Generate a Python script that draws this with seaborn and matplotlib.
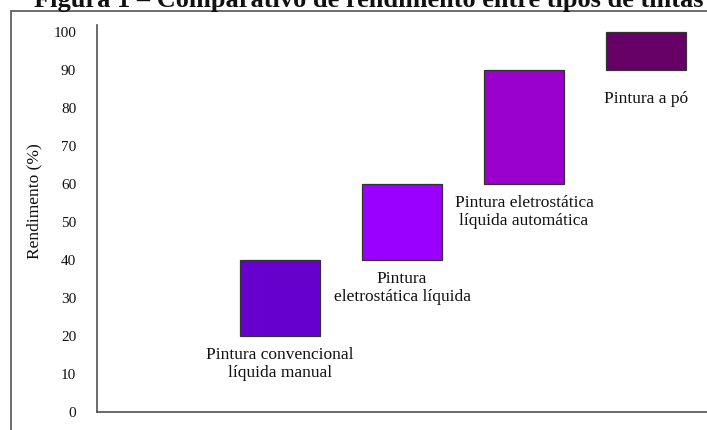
import matplotlib
matplotlib.use("Agg")
import matplotlib.pyplot as plt
from matplotlib.patches import Rectangle
import seaborn as sns
import pandas as pd

# Yield ranges (%) per painting method
categorias = [
    "Pintura convencional\nlíquida manual",
    "Pintura\neletrostática líquida",
    "Pintura eletrostática\nlíquida automática",
    "Pintura a pó",
]
rend_min = [20, 40, 60, 90]
rend_max = [40, 60, 90, 100]
cores = ["#6600CC", "#9900FF", "#9900CC", "#660066"]
y_ticks = list(range(0, 101, 10))
titulo = "Figura 1 – Comparativo de rendimento entre tipos de tintas"

df = pd.DataFrame({
    "metodo": categorias,
    "amplitude": [hi - lo for lo, hi in zip(rend_min, rend_max)],
    "inicio": rend_min,
})

sns.set_theme(style="white")
plt.rcParams["font.family"] = ["Liberation Serif", "DejaVu Serif"]

fig = plt.figure(figsize=(7.07, 4.30), dpi=100)
ax = fig.add_axes([97 / 707, 18 / 430, 610 / 707, 387 / 430])

sns.barplot(data=df, x="metodo", y="amplitude", bottom=df["inicio"].values,
            width=0.66, color=cores[0], edgecolor="#333333", linewidth=0.9,
            ax=ax)
for patch, c in zip(ax.patches, cores):
    patch.set_facecolor(c)

# Category captions under each floating bar
gaps = [3.0, 3.0, 3.0, 5.5]
for i, (nome, lo, g) in enumerate(zip(categorias, rend_min, gaps)):
    ax.text(i, lo - g, nome, ha="center", va="top", fontsize=12.5,
            linespacing=1.15, color="#111111")

ax.set_xlim(-1.5, 3.5)
ax.set_ylim(0, 101.8)
ax.set_yticks(y_ticks)
ax.set_yticklabels([str(t) for t in y_ticks], fontsize=11, color="#111111")
ax.set_xticks([])
ax.set_xlabel("")
ax.set_ylabel("Rendimento (%)", fontsize=12.5, color="#111111")
ax.yaxis.set_label_coords(-0.09, 0.545)
ax.tick_params(axis="y", length=0, pad=15)

for side in ["top", "right"]:
    ax.spines[side].set_visible(False)
for side in ["left", "bottom"]:
    ax.spines[side].set_color("#505050")
    ax.spines[side].set_linewidth(1.2)

# Document frame around the figure
fig.add_artist(Rectangle((11 / 707, -0.5), 2.0, 1.5 - 10.5 / 430,
                         transform=fig.transFigure, fill=False,
                         edgecolor="#555555", linewidth=1.2))
fig.text(703 / 707, 1 - 7 / 430, titulo, ha="right", va="baseline",
         fontsize=19, fontweight="bold", color="#111111")

fig.savefig("out.png", dpi=100)
